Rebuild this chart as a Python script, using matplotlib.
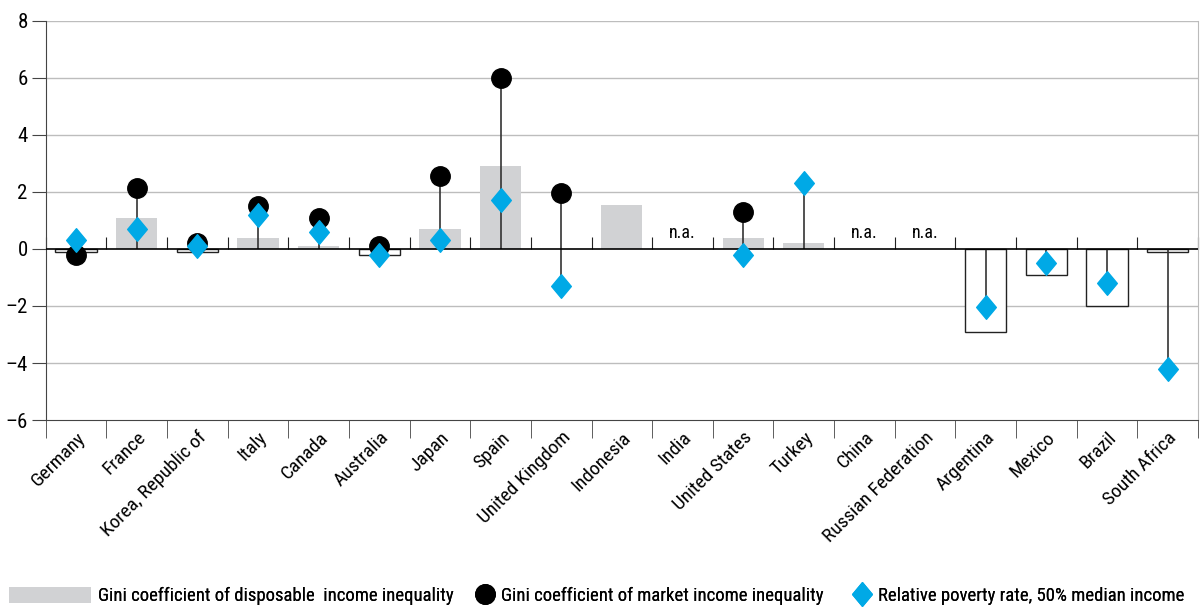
import numpy as np
import matplotlib
matplotlib.use('Agg')
import matplotlib.pyplot as plt
from matplotlib import font_manager
from matplotlib.path import Path
from matplotlib.lines import Line2D
from matplotlib.patches import Patch

# --- Data (percentage-point changes) ---
countries = ['Germany', 'France', 'Korea, Republic of', 'Italy', 'Canada', 'Australia',
             'Japan', 'Spain', 'United Kingdom', 'Indonesia', 'India', 'United States',
             'Turkey', 'China', 'Russian Federation', 'Argentina', 'Mexico', 'Brazil',
             'South Africa']
gini_disposable = [-0.1, 1.1, -0.1, 0.4, 0.1, -0.2, 0.7, 2.9, np.nan, 1.55, np.nan, 0.4,
                   0.2, np.nan, np.nan, -2.9, -0.9, -2.0, -0.1]
gini_market = [-0.2, 2.15, 0.2, 1.5, 1.1, 0.1, 2.55, 6.0, 1.95, np.nan, np.nan, 1.3,
               np.nan, np.nan, np.nan, np.nan, np.nan, np.nan, np.nan]
poverty_rate = [0.3, 0.7, 0.1, 1.2, 0.6, -0.2, 0.3, 1.7, -1.3, np.nan, np.nan, -0.2,
                2.3, np.nan, np.nan, -2.05, -0.5, -1.2, -4.2]
not_available = ['India', 'China', 'Russian Federation']
legend_labels = ['Gini coefficient of disposable  income inequality',
                 'Gini coefficient of market income inequality',
                 'Relative poverty rate, 50% median income']

# --- Styling ---
BAR_GREY = '#D1D2D4'
BLUE = '#00A9E6'
GRID = '#BDBDBD'
FS = 14

available = {f.name for f in font_manager.fontManager.ttflist}
narrow = [f for f in ['Liberation Sans Narrow', 'Roboto Condensed', 'DejaVu Sans Condensed']
          if f in available]
plt.rcParams['font.family'] = narrow + ['DejaVu Sans']
plt.rcParams['font.size'] = FS

diamond = Path([(0, 1.2), (1, 0), (0, -1.2), (-1, 0), (0, 1.2)],
               [Path.MOVETO, Path.LINETO, Path.LINETO, Path.LINETO, Path.CLOSEPOLY])

x = np.arange(len(countries))
disp = np.array(gini_disposable, dtype=float)
mkt = np.array(gini_market, dtype=float)
pov = np.array(poverty_rate, dtype=float)

fig = plt.figure(figsize=(12.04, 6.08), dpi=100)
ax = fig.add_axes([0.038, 0.309, 0.957, 0.657])

ax.set_xlim(-0.5, len(countries) - 0.5)
ax.set_ylim(-6, 8)

# grid lines
for yv in range(-4, 9, 2):
    if yv != 0:
        ax.axhline(yv, color=GRID, lw=1, zorder=0)

# bars: positive grey fill, negative white with outline
pos_mask = disp > 0
neg_mask = disp < 0
ax.bar(x[pos_mask], disp[pos_mask], width=0.68, color=BAR_GREY, zorder=1)
ax.bar(x[neg_mask], disp[neg_mask], width=0.68, color='white', edgecolor='#222222',
       lw=1, zorder=1)

# connecting stems
for i in range(len(countries)):
    vals = [v for v in (0, mkt[i], pov[i]) if not np.isnan(v)]
    if len(vals) > 1:
        ax.vlines(x[i], min(vals), max(vals), color='#333333', lw=1.2, zorder=2)

ax.axhline(0, color='black', lw=1.2, zorder=3)

ax.plot(x, mkt, 'o', color='black', ms=14, zorder=4, linestyle='none')
ax.plot(x, pov, marker=diamond, color=BLUE, ms=17, zorder=5, linestyle='none')

for c in not_available:
    ax.text(countries.index(c), 0.25, 'n.a.', ha='center', va='bottom', fontsize=FS - 1)

# axes styling
ax.spines['top'].set_visible(False)
ax.spines['left'].set_color('#444444')
ax.spines['bottom'].set_color('#444444')
ax.spines['right'].set_color('#BBBBBB')
ax.set_yticks(range(-6, 9, 2))
ax.set_yticklabels([str(v).replace('-', '\u2013') for v in range(-6, 9, 2)])
ax.tick_params(axis='y', length=10, color='#444444', pad=3, labelsize=FS + 1)

ax.set_xticks(x)
ax.set_xticklabels(countries, rotation=45, ha='right', rotation_mode='anchor')
ax.tick_params(axis='x', length=0, pad=6, labelsize=FS)
ax.set_xticks(np.arange(len(countries) + 1) - 0.5, minor=True)
ax.tick_params(axis='x', which='minor', length=13, color='#444444')

# small upward ticks along the zero line
zero_ax = ax.secondary_xaxis(6 / 14)
zero_ax.spines['bottom'].set_visible(False)
zero_ax.set_xticks(np.arange(len(countries) + 1) - 0.5)
zero_ax.tick_params(axis='x', direction='in', length=9, color='#222222', labelbottom=False)

# legend: three single-entry legends placed along the bottom
handles = [Patch(facecolor=BAR_GREY, edgecolor='none'),
           Line2D([], [], marker='o', color='black', linestyle='none', ms=14),
           Line2D([], [], marker=diamond, color=BLUE, linestyle='none', ms=17)]
lengths = [4.4, 1.1, 1.0]
anchors = [-0.002, 0.3846, 0.6985]
for h, lab, hl, xa in zip(handles, legend_labels, lengths, anchors):
    leg = fig.legend([h], [lab], loc='lower left', bbox_to_anchor=(xa, -0.014),
                     frameon=False, handlelength=hl, handleheight=0.9,
                     handletextpad=0.35, fontsize=FS - 0.5, borderaxespad=0.2)
    fig.add_artist(leg)

fig.savefig('out.png', dpi=100)
